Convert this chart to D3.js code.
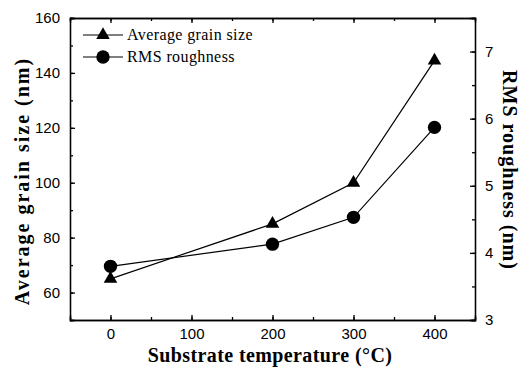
<!DOCTYPE html>
<html lang="en">
<head>
<meta charset="utf-8">
<title>Grain size and roughness</title>
<script src="https://cdn.jsdelivr.net/npm/d3@7"></script>
<style>
  body { margin: 0; background: #fff; }
  .tick text { font-family: "Liberation Sans", Arial, sans-serif; font-size: 15px; }
  .axis path, .axis line { stroke: #000; stroke-width: 1.3; }
  .title { font-family: "Liberation Serif", "Times New Roman", serif; font-weight: bold; font-size: 20px; }
  .legend text { font-family: "Liberation Serif", "Times New Roman", serif; font-size: 16px; letter-spacing: 0.4px; }
</style>
</head>
<body>
<script>
// data
var temps = [0, 200, 300, 400];
var grainSize = [65, 85, 100, 144.5];      // nm, left axis
var roughness = [3.8, 4.13, 4.53, 5.87];   // nm, right axis
var xTicks = [0, 100, 200, 300, 400];
var leftTicks = [60, 80, 100, 120, 140, 160];
var rightTicks = [3, 4, 5, 6, 7];

var w = 525, h = 370;
// plot frame (note: "top" is reserved on window, so prefixed names)
var pLeft = 70, pRight = 475, pTop = 18, pBottom = 320;

var svg = d3.select("body").append("svg")
  .attr("width", w)
  .attr("height", h);

var x = d3.scaleLinear().domain([-50, 450]).range([pLeft, pRight]);
var yL = d3.scaleLinear().domain([50, 160]).range([pBottom, pTop]);
var yR = d3.scaleLinear().domain([3, 7.5]).range([pBottom, pTop]);

// minor ticks first
svg.append("g").attr("class", "axis")
  .attr("transform", "translate(0," + pBottom + ")")
  .call(d3.axisBottom(x).tickValues(d3.range(-50, 451, 50)).tickSize(-3).tickFormat(""));
svg.append("g").attr("class", "axis")
  .attr("transform", "translate(0," + pTop + ")")
  .call(d3.axisTop(x).tickValues(d3.range(-50, 451, 50)).tickSize(-3).tickFormat(""));
svg.append("g").attr("class", "axis")
  .attr("transform", "translate(" + pLeft + ",0)")
  .call(d3.axisLeft(yL).tickValues(d3.range(50, 161, 10)).tickSize(-3).tickFormat(""));
svg.append("g").attr("class", "axis")
  .attr("transform", "translate(" + pRight + ",0)")
  .call(d3.axisRight(yR).tickValues(d3.range(3, 7.51, 0.5)).tickSize(-3).tickFormat(""));

// major ticks with labels
svg.append("g").attr("class", "axis")
  .attr("transform", "translate(0," + pBottom + ")")
  .call(d3.axisBottom(x).tickValues(xTicks).tickSize(-5).tickPadding(8).tickFormat(d3.format("d")));
svg.append("g").attr("class", "axis")
  .attr("transform", "translate(0," + pTop + ")")
  .call(d3.axisTop(x).tickValues(xTicks).tickSize(-5).tickFormat(""));
svg.append("g").attr("class", "axis")
  .attr("transform", "translate(" + pLeft + ",0)")
  .call(d3.axisLeft(yL).tickValues(leftTicks).tickSize(-5).tickPadding(10));
svg.append("g").attr("class", "axis")
  .attr("transform", "translate(" + pRight + ",0)")
  .call(d3.axisRight(yR).tickValues(rightTicks).tickSize(-5).tickPadding(10).tickFormat(d3.format("d")));

svg.selectAll(".axis .domain").attr("stroke-width", 1.5);

// axis titles
svg.append("text").attr("class", "title")
  .attr("x", 270).attr("y", 362)
  .attr("text-anchor", "middle")
  .style("letter-spacing", "0.4px")
  .text("Substrate temperature (\u00B0C)");
svg.append("text").attr("class", "title")
  .attr("transform", "translate(29,181) rotate(-90)")
  .attr("text-anchor", "middle")
  .style("letter-spacing", "2px")
  .text("Average grain size (nm)");
svg.append("text").attr("class", "title")
  .attr("transform", "translate(503,170) rotate(90)")
  .attr("text-anchor", "middle")
  .style("letter-spacing", "1px")
  .text("RMS roughness (nm)");

// lines
var lineL = d3.line().x(function(d, i) { return x(temps[i]); }).y(function(d) { return yL(d); });
var lineR = d3.line().x(function(d, i) { return x(temps[i]); }).y(function(d) { return yR(d); });

svg.append("path").attr("d", lineL(grainSize))
  .attr("fill", "none").attr("stroke", "#000").attr("stroke-width", 1.2);
svg.append("path").attr("d", lineR(roughness))
  .attr("fill", "none").attr("stroke", "#000").attr("stroke-width", 1.2);

var tri = d3.symbol().type(d3.symbolTriangle).size(80);
var circ = d3.symbol().type(d3.symbolCircle).size(140);

svg.selectAll(".tri").data(grainSize).enter().append("path")
  .attr("class", "tri")
  .attr("d", tri)
  .attr("transform", function(d, i) { return "translate(" + x(temps[i]) + "," + yL(d) + ")"; })
  .attr("fill", "#000");
svg.selectAll(".circ").data(roughness).enter().append("path")
  .attr("class", "circ")
  .attr("d", circ)
  .attr("transform", function(d, i) { return "translate(" + x(temps[i]) + "," + yR(d) + ")"; })
  .attr("fill", "#000");

// legend
var legend = svg.append("g").attr("class", "legend");
var items = [{ label: "Average grain size", sym: tri, y: 35 },
             { label: "RMS roughness", sym: circ, y: 57 }];
items.forEach(function(it) {
  legend.append("line").attr("x1", 83).attr("x2", 123)
    .attr("y1", it.y).attr("y2", it.y).attr("stroke", "#000").attr("stroke-width", 1);
  legend.append("path").attr("d", it.sym)
    .attr("transform", "translate(103," + it.y + ")").attr("fill", "#000");
  legend.append("text").attr("x", 127).attr("y", it.y + 5).text(it.label);
});
</script>
</body>
</html>
